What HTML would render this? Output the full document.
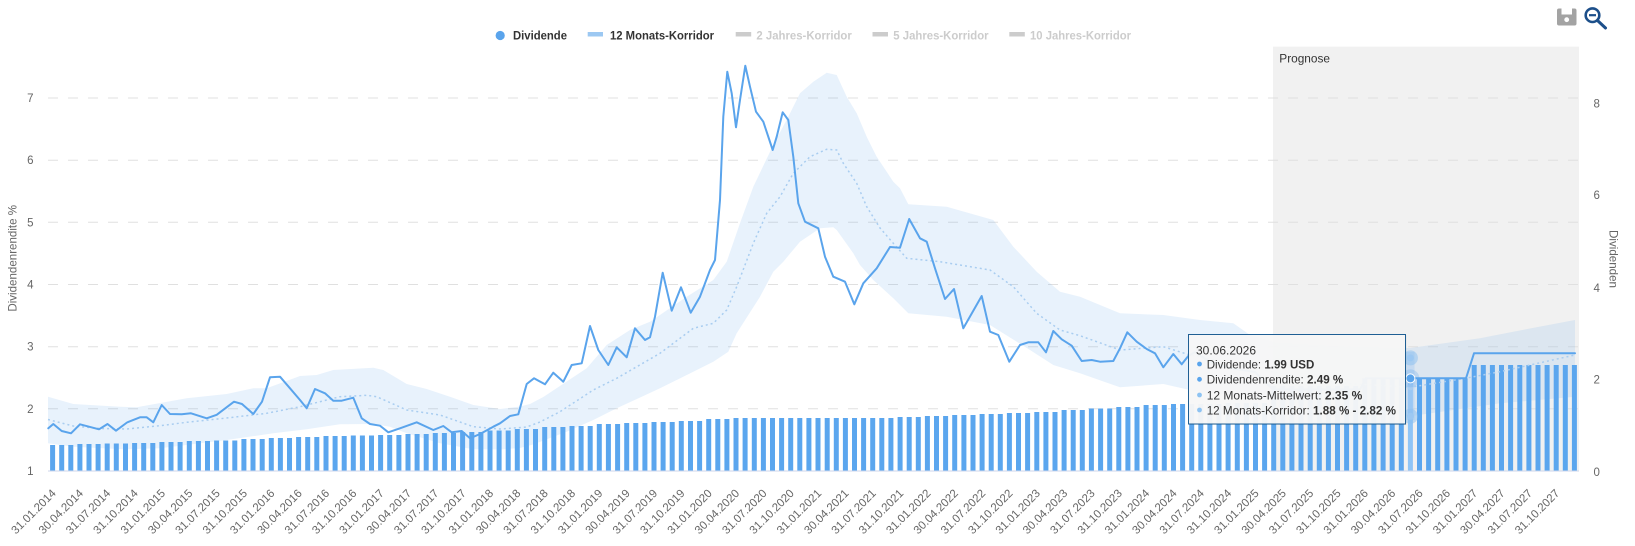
<!DOCTYPE html>
<html><head><meta charset="utf-8"><style>
html,body{margin:0;padding:0;background:#fff;}
svg{display:block;font-family:"Liberation Sans",Arial,sans-serif;}
</style></head><body>
<svg width="1635" height="546" viewBox="0 0 1635 546" xmlns="http://www.w3.org/2000/svg">
<rect x="0" y="0" width="1635" height="546" fill="#fff"/>

<!-- Prognose plot band -->
<rect x="1273" y="46.7" width="306" height="424.3" fill="#f1f1f1"/>
<text x="1279.3" y="62.5" font-size="12" fill="#333" textLength="50.7" lengthAdjust="spacingAndGlyphs">Prognose</text>

<!-- gridlines -->
<g stroke="#e0e0e0" stroke-width="1" stroke-dasharray="10 10">
<line x1="48" y1="98" x2="1579" y2="98"/>
<line x1="48" y1="160.2" x2="1579" y2="160.2"/>
<line x1="48" y1="222.3" x2="1579" y2="222.3"/>
<line x1="48" y1="284.5" x2="1579" y2="284.5"/>
<line x1="48" y1="346.7" x2="1579" y2="346.7"/>
<line x1="48" y1="408.8" x2="1579" y2="408.8"/>
</g>

<!-- 12 month corridor band -->
<polygon fill="#5aa0eb" fill-opacity="0.14" points="48,396.7 73.3,404 120,406.7 136.7,407.3 186.7,398.3 226.7,394 253.3,388.3 266.7,388.3 300,376 316.7,375 333.3,370 373.3,367.7 383.3,370 406.7,384 426.7,389 450,396.7 473.3,405 500,409 520,406.5 530,404 543.3,397 586.7,368.3 606.7,345 630,330 650,321.7 686.7,296.7 713.3,280 726.7,261.7 740,223.3 753.3,186.7 773.3,145 788.3,116.7 800,93.3 813.3,81.7 826.7,72.7 836.7,75 846.7,96.7 856.7,113.3 866.7,136.7 876.7,156.7 893.3,181.7 900,188.3 908.3,204.3 946.7,206.7 993.3,220 1013.3,246.7 1036.7,271.7 1060,291.7 1080,296.7 1120,313.3 1163.3,315 1200,320 1233.3,323.3 1250,335 1273,342 1340,346 1410,348 1480,338.3 1513.3,331.7 1575,320 1575,396.7 1500,403.3 1410,416.3 1340,410 1273,400 1190,390 1163.3,384 1120,387.3 1080,373.3 1053.3,365 1030,350 990,325 946.7,316.7 908.3,313.3 893.3,298.3 873.3,280 860,265 853.3,253.3 836.7,230 833.3,227.3 820,228.3 800,241.7 783.3,261.7 773.3,271.7 760,296.7 736.7,333.3 728.3,351.7 713.3,361.7 693.3,371.7 660,388.3 616.7,408.3 593.3,420 566.7,431.7 533,444.5 520,448 500,449.5 473.3,449.3 440,443.3 406.7,433.3 390,426.7 373.3,424 340,424.3 306.7,429.3 273.3,433.3 226.7,440 160,448.3 123.3,449.3 73.3,446.7 48,443.3"/>

<!-- dividend bars -->
<path fill="#5ba6ee" d="M50.1,445h5v26h-5zM59.2,445h5v26h-5zM68.3,445h5v26h-5zM77.4,444h5v27h-5zM86.5,444h5v27h-5zM95.6,444h5v27h-5zM104.7,443.5h5v27.5h-5zM113.8,443.5h5v27.5h-5zM123,443.5h5v27.5h-5zM132.1,443h5v28h-5zM141.2,443h5v28h-5zM150.3,443h5v28h-5zM159.4,442h5v29h-5zM168.5,442h5v29h-5zM177.6,442h5v29h-5zM186.8,441h5v30h-5zM195.9,441h5v30h-5zM205,441h5v30h-5zM214.1,440.5h5v30.5h-5zM223.2,440.5h5v30.5h-5zM232.3,440.5h5v30.5h-5zM241.4,439h5v32h-5zM250.5,439h5v32h-5zM259.7,439h5v32h-5zM268.8,438h5v33h-5zM277.9,438h5v33h-5zM287,438h5v33h-5zM296.1,437h5v34h-5zM305.2,437h5v34h-5zM314.3,437h5v34h-5zM323.5,436h5v35h-5zM332.6,436h5v35h-5zM341.7,436h5v35h-5zM350.8,435.5h5v35.5h-5zM359.9,435.5h5v35.5h-5zM369,435.5h5v35.5h-5zM378.1,435h5v36h-5zM387.2,435h5v36h-5zM396.4,435h5v36h-5zM405.5,434h5v37h-5zM414.6,434h5v37h-5zM423.7,434h5v37h-5zM432.8,433h5v38h-5zM441.9,433h5v38h-5zM451,433h5v38h-5zM460.1,432h5v39h-5zM469.3,432h5v39h-5zM478.4,432h5v39h-5zM487.5,430.5h5v40.5h-5zM496.6,430.5h5v40.5h-5zM505.7,430.5h5v40.5h-5zM514.8,429h5v42h-5zM523.9,429h5v42h-5zM533,429h5v42h-5zM542.2,427h5v44h-5zM551.3,427h5v44h-5zM560.4,427h5v44h-5zM569.5,426h5v45h-5zM578.6,426h5v45h-5zM587.7,426h5v45h-5zM596.8,424h5v47h-5zM605.9,424h5v47h-5zM615.1,424h5v47h-5zM624.2,423h5v48h-5zM633.3,423h5v48h-5zM642.4,423h5v48h-5zM651.5,422h5v49h-5zM660.6,422h5v49h-5zM669.7,422h5v49h-5zM678.8,421h5v50h-5zM688,421h5v50h-5zM697.1,421h5v50h-5zM706.2,419h5v52h-5zM715.3,419h5v52h-5zM724.4,419h5v52h-5zM733.5,418h5v53h-5zM742.6,418h5v53h-5zM751.8,418h5v53h-5zM760.9,418h5v53h-5zM770,418h5v53h-5zM779.1,418h5v53h-5zM788.2,418h5v53h-5zM797.3,418h5v53h-5zM806.4,418h5v53h-5zM815.5,418h5v53h-5zM824.7,418h5v53h-5zM833.8,418h5v53h-5zM842.9,418h5v53h-5zM852,418h5v53h-5zM861.1,418h5v53h-5zM870.2,418h5v53h-5zM879.3,418h5v53h-5zM888.4,418h5v53h-5zM897.6,417h5v54h-5zM906.7,417h5v54h-5zM915.8,417h5v54h-5zM924.9,416h5v55h-5zM934,416h5v55h-5zM943.1,416h5v55h-5zM952.2,415h5v56h-5zM961.4,415h5v56h-5zM970.5,415h5v56h-5zM979.6,414h5v57h-5zM988.7,414h5v57h-5zM997.8,414h5v57h-5zM1006.9,413h5v58h-5zM1016,413h5v58h-5zM1025.1,413h5v58h-5zM1034.3,412h5v59h-5zM1043.4,412h5v59h-5zM1052.5,412h5v59h-5zM1061.6,410h5v61h-5zM1070.7,410h5v61h-5zM1079.8,410h5v61h-5zM1088.9,408.5h5v62.5h-5zM1098.1,408.5h5v62.5h-5zM1107.2,408.5h5v62.5h-5zM1116.3,407h5v64h-5zM1125.4,407h5v64h-5zM1134.5,407h5v64h-5zM1143.6,405h5v66h-5zM1152.7,405h5v66h-5zM1161.8,405h5v66h-5zM1171,404h5v67h-5zM1180.1,404h5v67h-5zM1189.2,404h5v67h-5zM1198.3,404h5v67h-5zM1207.4,404h5v67h-5zM1216.5,404h5v67h-5zM1225.6,403h5v68h-5zM1234.8,403h5v68h-5zM1243.9,403h5v68h-5zM1253,403h5v68h-5zM1262.1,403h5v68h-5zM1271.2,386h5v85h-5zM1280.3,386h5v85h-5zM1289.4,386h5v85h-5zM1298.5,386h5v85h-5zM1307.7,386h5v85h-5zM1316.8,386h5v85h-5zM1325.9,386h5v85h-5zM1335,386h5v85h-5zM1344.1,386h5v85h-5zM1353.2,386h5v85h-5zM1362.3,378.3h5v92.7h-5zM1371.4,378.3h5v92.7h-5zM1380.6,378.3h5v92.7h-5zM1389.7,378.3h5v92.7h-5zM1398.8,378.3h5v92.7h-5zM1417,378.3h5v92.7h-5zM1426.1,378.3h5v92.7h-5zM1435.2,378.3h5v92.7h-5zM1444.4,378.3h5v92.7h-5zM1453.5,378.3h5v92.7h-5zM1462.6,378.3h5v92.7h-5zM1471.7,365h5v106h-5zM1480.8,365h5v106h-5zM1489.9,365h5v106h-5zM1499,365h5v106h-5zM1508.1,365h5v106h-5zM1517.3,365h5v106h-5zM1526.4,365h5v106h-5zM1535.5,365h5v106h-5zM1544.6,365h5v106h-5zM1553.7,365h5v106h-5zM1562.8,365h5v106h-5zM1571.9,365h5v106h-5z"/>
<!-- hovered bar -->
<rect x="1407.9" y="378.3" width="5" height="92.7" fill="#8ec4f6"/>

<!-- 12 month mean dotted -->
<polyline fill="none" stroke="#a9cdf0" stroke-width="1.5" stroke-dasharray="2 3" points="48,419.5 73.3,426 100,428.5 126.7,429 160,425.7 186.7,422.3 226.7,418 266.7,413.3 300,406.7 340,396.7 366.7,395.3 376.7,396.7 406.7,410 440,415 473.3,426.7 500,429 526.7,427 540,422 560,411.7 593.3,390 616.7,378.3 660,353.3 693.3,328.3 713.3,323.3 726.7,310 736.7,286.7 753.3,243.3 766.7,213.3 780,196.7 793.3,173.3 810,156.7 826.7,149.3 836.7,150 843.3,163.3 856.7,183.3 866.7,206.7 880,228 893.3,243.3 906.7,258.3 940,261.7 990,270 1013.3,286.7 1036.7,313.3 1060,330 1080,335.7 1120,350 1163.3,346.7 1190,355 1273,372 1340,383 1410,387.3 1467,378 1500,371.7 1575,355"/>

<!-- dividend yield line -->
<polyline fill="none" stroke="#5aa4ec" stroke-width="2" stroke-linejoin="round" stroke-linecap="round" points="48.3,428.3 53.3,424 61.7,431 71,433.3 80,424.3 89,426.7 99,429.3 107.5,424 116,430.7 127,422.5 140,417.3 146.7,417.3 153.3,422.3 161.7,405 170,414 181.7,414.3 191,413.3 206.7,418.3 216.7,414.8 234,401.7 242,404 253.3,414 262,401.7 270,377.3 280,376.7 290,388.3 300,400 306.7,408.3 315,389 325,393.3 333.3,400.7 341.7,400.7 353.3,397.7 361.7,418.3 370,424 380,425.7 388.3,432.3 400,428.3 416.7,422.3 433.3,430 443.3,426 451.7,432.3 461.7,431 470,438.3 480,434 493.3,426.7 500,423.3 510,416 518.3,414.3 526.7,384 534,378.3 545,384.3 553.3,372.7 563.3,381.7 571.7,365 581.7,363.3 590,326 598.3,350 608.3,365 616.7,347.3 626.7,357.3 635,328.3 645,340 650,337.3 655,316.7 662.7,272.7 671.7,310.7 681,287.3 690.7,312.7 700,296.7 710,270 715,260 720,200 723.3,116.7 727.3,71.7 731.7,93.3 736,127.3 740,100 745.3,65.7 750,86.7 756,111.7 763.3,121.7 772.7,150 776.7,136.7 782.7,112.3 788.3,120 793.3,156.7 798.3,203.3 805,221.7 818.3,228.3 825,256.7 833.3,276.7 845,281.7 854.3,304.3 863.3,283.3 876.7,268.3 890,247 900,247.7 909.2,219 920,238.3 926.7,241.7 935,268.3 945,299 954,289 963.3,328.3 981.7,296 990,331.7 998.3,335 1009.3,361.7 1020,345 1028.3,342.3 1038.3,342.3 1046,352.3 1053.3,331 1061.7,339.3 1071.7,345.7 1081.7,361 1091.7,360 1100,361.7 1113.3,361 1120,348.3 1127.3,332.3 1136.7,341.7 1146.7,349 1155,353.3 1163.3,367.3 1173.3,354 1181.7,364.3 1188.3,356 1195,352 1210,362 1230,368 1255,372 1273,389.5 1360,389.5 1366,378.3 1466,378.3 1474,353.3 1575,353.3"/>

<!-- x axis line -->
<line x1="48" y1="471" x2="1579" y2="471" stroke="#ccd6eb" stroke-width="1"/>

<!-- hover markers -->
<rect x="1406.5" y="352" width="8" height="68" fill="#a9cdf2" opacity="0.45"/>
<circle cx="1410.4" cy="357.9" r="7.5" fill="#8cbff0" opacity="0.5"/>
<circle cx="1410.4" cy="357.9" r="3.5" fill="#9cc8f2"/>
<circle cx="1410.4" cy="416.3" r="7.5" fill="#8cbff0" opacity="0.5"/>
<circle cx="1410.4" cy="416.3" r="3.5" fill="#9cc8f2"/>
<circle cx="1410.4" cy="387.3" r="3" fill="#a9cdf0"/>
<circle cx="1410.4" cy="378.4" r="9" fill="#5aa4ec" opacity="0.25"/>
<circle cx="1410.4" cy="378.4" r="4.5" fill="#5aa4ec" stroke="#fff" stroke-width="1"/>

<!-- left axis labels -->
<g font-size="11.5" fill="#666" text-anchor="end">
<text x="33.5" y="102">7</text>
<text x="33.5" y="164.2">6</text>
<text x="33.5" y="226.3">5</text>
<text x="33.5" y="288.5">4</text>
<text x="33.5" y="350.7">3</text>
<text x="33.5" y="412.8">2</text>
<text x="33.5" y="475">1</text>
</g>
<!-- right axis labels -->
<g font-size="11.5" fill="#666">
<text x="1593.5" y="107.3">8</text>
<text x="1593.5" y="199">6</text>
<text x="1593.5" y="292">4</text>
<text x="1593.5" y="383.3">2</text>
<text x="1593.5" y="476">0</text>
</g>
<!-- axis titles -->
<text transform="translate(16.5,258.3) rotate(-90)" text-anchor="middle" font-size="12" fill="#666" textLength="106.7" lengthAdjust="spacingAndGlyphs">Dividendenrendite %</text>
<text transform="translate(1609.5,259) rotate(90)" text-anchor="middle" font-size="12" fill="#666" textLength="58" lengthAdjust="spacingAndGlyphs">Dividenden</text>

<!-- x axis labels -->
<g font-size="11.5" fill="#666" text-anchor="end">
<text transform="translate(56.6,494) rotate(-45)">31.01.2014</text>
<text transform="translate(83.9,494) rotate(-45)">30.04.2014</text>
<text transform="translate(111.2,494) rotate(-45)">31.07.2014</text>
<text transform="translate(138.6,494) rotate(-45)">31.10.2014</text>
<text transform="translate(165.9,494) rotate(-45)">31.01.2015</text>
<text transform="translate(193.3,494) rotate(-45)">30.04.2015</text>
<text transform="translate(220.6,494) rotate(-45)">31.07.2015</text>
<text transform="translate(247.9,494) rotate(-45)">31.10.2015</text>
<text transform="translate(275.3,494) rotate(-45)">31.01.2016</text>
<text transform="translate(302.6,494) rotate(-45)">30.04.2016</text>
<text transform="translate(330,494) rotate(-45)">31.07.2016</text>
<text transform="translate(357.3,494) rotate(-45)">31.10.2016</text>
<text transform="translate(384.6,494) rotate(-45)">31.01.2017</text>
<text transform="translate(412,494) rotate(-45)">30.04.2017</text>
<text transform="translate(439.3,494) rotate(-45)">31.07.2017</text>
<text transform="translate(466.6,494) rotate(-45)">31.10.2017</text>
<text transform="translate(494,494) rotate(-45)">31.01.2018</text>
<text transform="translate(521.3,494) rotate(-45)">30.04.2018</text>
<text transform="translate(548.7,494) rotate(-45)">31.07.2018</text>
<text transform="translate(576,494) rotate(-45)">31.10.2018</text>
<text transform="translate(603.3,494) rotate(-45)">31.01.2019</text>
<text transform="translate(630.7,494) rotate(-45)">30.04.2019</text>
<text transform="translate(658,494) rotate(-45)">31.07.2019</text>
<text transform="translate(685.4,494) rotate(-45)">31.10.2019</text>
<text transform="translate(712.7,494) rotate(-45)">31.01.2020</text>
<text transform="translate(740,494) rotate(-45)">30.04.2020</text>
<text transform="translate(767.4,494) rotate(-45)">31.07.2020</text>
<text transform="translate(794.7,494) rotate(-45)">31.10.2020</text>
<text transform="translate(822.1,494) rotate(-45)">31.01.2021</text>
<text transform="translate(849.4,494) rotate(-45)">30.04.2021</text>
<text transform="translate(876.7,494) rotate(-45)">31.07.2021</text>
<text transform="translate(904.1,494) rotate(-45)">31.10.2021</text>
<text transform="translate(931.4,494) rotate(-45)">31.01.2022</text>
<text transform="translate(958.8,494) rotate(-45)">30.04.2022</text>
<text transform="translate(986.1,494) rotate(-45)">31.07.2022</text>
<text transform="translate(1013.4,494) rotate(-45)">31.10.2022</text>
<text transform="translate(1040.8,494) rotate(-45)">31.01.2023</text>
<text transform="translate(1068.1,494) rotate(-45)">30.04.2023</text>
<text transform="translate(1095.5,494) rotate(-45)">31.07.2023</text>
<text transform="translate(1122.8,494) rotate(-45)">31.10.2023</text>
<text transform="translate(1150.1,494) rotate(-45)">31.01.2024</text>
<text transform="translate(1177.5,494) rotate(-45)">30.04.2024</text>
<text transform="translate(1204.8,494) rotate(-45)">31.07.2024</text>
<text transform="translate(1232.1,494) rotate(-45)">31.10.2024</text>
<text transform="translate(1259.5,494) rotate(-45)">31.01.2025</text>
<text transform="translate(1286.8,494) rotate(-45)">30.04.2025</text>
<text transform="translate(1314.2,494) rotate(-45)">31.07.2025</text>
<text transform="translate(1341.5,494) rotate(-45)">31.10.2025</text>
<text transform="translate(1368.8,494) rotate(-45)">31.01.2026</text>
<text transform="translate(1396.2,494) rotate(-45)">30.04.2026</text>
<text transform="translate(1423.5,494) rotate(-45)">31.07.2026</text>
<text transform="translate(1450.9,494) rotate(-45)">31.10.2026</text>
<text transform="translate(1478.2,494) rotate(-45)">31.01.2027</text>
<text transform="translate(1505.5,494) rotate(-45)">30.04.2027</text>
<text transform="translate(1532.9,494) rotate(-45)">31.07.2027</text>
<text transform="translate(1560.2,494) rotate(-45)">31.10.2027</text>
</g>

<!-- legend -->
<circle cx="500.2" cy="35.5" r="4.6" fill="#5aa4ec"/>
<text x="513" y="39.7" font-size="12" font-weight="bold" fill="#333" textLength="54" lengthAdjust="spacingAndGlyphs">Dividende</text>
<rect x="587.7" y="32" width="15.3" height="4.5" fill="#9cc8f2"/>
<text x="610" y="39.7" font-size="12" font-weight="bold" fill="#333" textLength="104" lengthAdjust="spacingAndGlyphs">12 Monats-Korridor</text>
<rect x="735.7" y="32" width="15.5" height="4.5" fill="#cccccc"/>
<text x="756.4" y="39.7" font-size="12" font-weight="bold" fill="#cccccc" textLength="95.4" lengthAdjust="spacingAndGlyphs">2 Jahres-Korridor</text>
<rect x="872.5" y="32" width="15.5" height="4.5" fill="#cccccc"/>
<text x="893.3" y="39.7" font-size="12" font-weight="bold" fill="#cccccc" textLength="95.3" lengthAdjust="spacingAndGlyphs">5 Jahres-Korridor</text>
<rect x="1009.3" y="32" width="15.5" height="4.5" fill="#cccccc"/>
<text x="1030" y="39.7" font-size="12" font-weight="bold" fill="#cccccc" textLength="101" lengthAdjust="spacingAndGlyphs">10 Jahres-Korridor</text>

<!-- icons -->
<rect x="1557" y="8.5" width="19.5" height="17" rx="2" fill="#a3a3a3"/>
<rect x="1561.5" y="8.5" width="10.5" height="6" fill="#fff"/>
<circle cx="1566.7" cy="19.7" r="2.4" fill="#fff"/>
<circle cx="1592.5" cy="15.2" r="6.8" fill="none" stroke="#1c4f8a" stroke-width="2.6"/>
<line x1="1589" y1="15.2" x2="1596" y2="15.2" stroke="#1c4f8a" stroke-width="2.2"/>
<line x1="1597.5" y1="20.5" x2="1605.5" y2="28" stroke="#1c4f8a" stroke-width="3" stroke-linecap="round"/>

<!-- tooltip -->
<rect x="1189.5" y="335.5" width="217" height="89.5" fill="#000" opacity="0.06"/>
<rect x="1188.5" y="334.5" width="217" height="89.5" fill="#f7f7f7" fill-opacity="0.96" stroke="#1f5f94" stroke-width="1"/>
<g font-size="12" fill="#333">
<text x="1196" y="354.5" textLength="60" lengthAdjust="spacingAndGlyphs">30.06.2026</text>
<circle cx="1199.5" cy="364" r="2.4" fill="#5aa4ec"/>
<text x="1206.7" y="368.3" textLength="107.6" lengthAdjust="spacingAndGlyphs">Dividende: <tspan font-weight="bold">1.99 USD</tspan></text>
<circle cx="1199.5" cy="379.3" r="2.4" fill="#5aa4ec"/>
<text x="1206.7" y="383.6" textLength="136.6" lengthAdjust="spacingAndGlyphs">Dividendenrendite: <tspan font-weight="bold">2.49 %</tspan></text>
<circle cx="1199.5" cy="395" r="2.4" fill="#8ec3f2"/>
<text x="1206.7" y="399.3" textLength="155.6" lengthAdjust="spacingAndGlyphs">12 Monats-Mittelwert: <tspan font-weight="bold">2.35 %</tspan></text>
<circle cx="1199.5" cy="410" r="2.4" fill="#8ec3f2"/>
<text x="1206.7" y="414.3" textLength="189.3" lengthAdjust="spacingAndGlyphs">12 Monats-Korridor: <tspan font-weight="bold">1.88 % - 2.82 %</tspan></text>
</g>
</svg>
</body></html>
